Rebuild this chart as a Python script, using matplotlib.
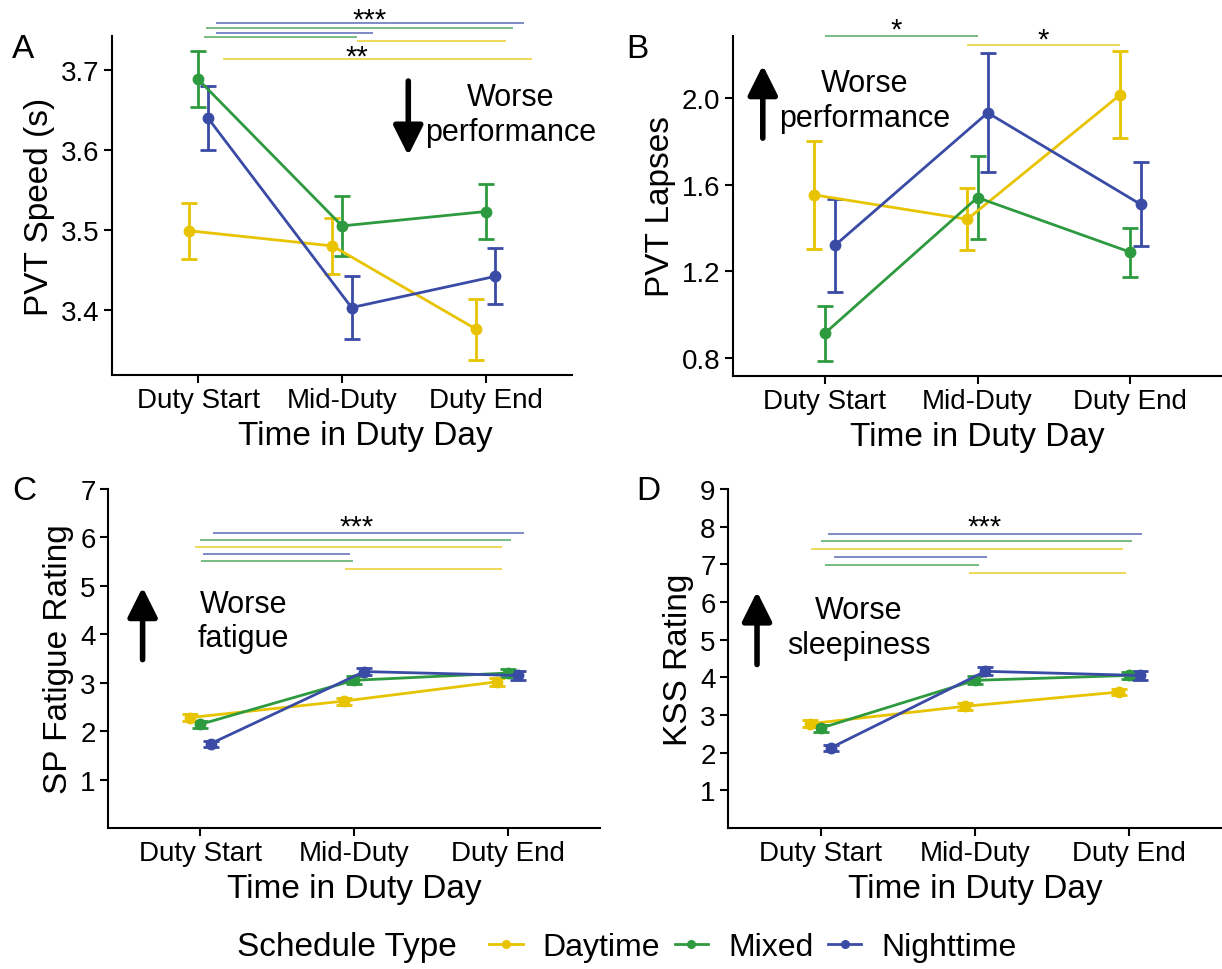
import matplotlib
matplotlib.use("Agg")
import matplotlib.pyplot as plt
from matplotlib.lines import Line2D

plt.rcParams['font.family'] = ['Liberation Sans', 'DejaVu Sans']

times = ['Duty Start', 'Mid-Duty', 'Duty End']
schedules = ['Daytime', 'Mixed', 'Nighttime']
colors = ['#E8C300', '#2E9A3F', '#3A4BA6']

# rows: Daytime, Mixed, Nighttime
speed_mean = [[3.499, 3.480, 3.376],
              [3.688, 3.505, 3.523],
              [3.640, 3.403, 3.442]]
speed_se = [[0.035, 0.035, 0.038],
            [0.035, 0.037, 0.034],
            [0.040, 0.039, 0.035]]

lapses_mean = [[1.553, 1.441, 2.015],
               [0.914, 1.541, 1.289],
               [1.320, 1.932, 1.510]]
lapses_se = [[0.249, 0.142, 0.200],
             [0.125, 0.191, 0.113],
             [0.216, 0.274, 0.193]]

fatigue_mean = [[2.28, 2.62, 3.02],
                [2.14, 3.05, 3.20],
                [1.74, 3.23, 3.15]]
fatigue_se = [[0.07, 0.07, 0.08],
              [0.07, 0.08, 0.08],
              [0.06, 0.08, 0.09]]

kss_mean = [[2.77, 3.23, 3.61],
            [2.65, 3.92, 4.05],
            [2.13, 4.16, 4.05]]
kss_se = [[0.09, 0.09, 0.09],
          [0.09, 0.11, 0.10],
          [0.08, 0.11, 0.12]]

# significance bars: (x start, x end, y, schedule index)
brackets_a = [(1.125, 3.268, 3.758, 2), (1.056, 3.191, 3.752, 1),
              (1.125, 2.217, 3.7466, 2), (1.042, 2.106, 3.741, 1),
              (2.106, 3.143, 3.7354, 0), (1.174, 3.323, 3.713, 0)]
stars_a = [('***', 2.19, 3.768), ('**', 2.106, 3.722)]

brackets_b = [(1.002, 2.002, 2.2875, 1), (1.932, 2.932, 2.2425, 0)]
stars_b = [('*', 1.47, 2.337), ('*', 2.429, 2.29)]

brackets_c = [(1.086, 3.104, 6.092, 2), (1.0, 3.023, 5.947, 1),
              (0.968, 2.965, 5.803, 0), (1.017, 1.974, 5.652, 2),
              (1.004, 1.991, 5.508, 1), (1.94, 2.965, 5.349, 0)]
stars_c = [('***', 2.017, 6.325)]

brackets_d = [(1.05, 3.084, 7.815, 2), (1.0, 3.02, 7.61, 1),
              (0.935, 2.958, 7.408, 0), (1.086, 2.078, 7.196, 2),
              (1.028, 2.028, 6.99, 1), (1.958, 2.976, 6.78, 0)]
stars_d = [('***', 2.06, 8.13)]

W, H = 1222, 970
fig = plt.figure(figsize=(W / 100, H / 100), dpi=100)


def px_axes(left, right, top, bottom):
    return fig.add_axes([left / W, 1 - bottom / H, (right - left) / W, (bottom - top) / H])


def draw_panel(ax, means, ses, ylabel, brackets, stars, ylim=None, yticks=None):
    dodge = [-0.0667, 0.0, 0.0667]
    for i, name in enumerate(schedules):
        xs = [j + 1 + dodge[i] for j in range(len(times))]
        ax.errorbar(xs, means[i], yerr=ses[i], color=colors[i], lw=2, marker='o',
                    ms=7.5, capsize=6, capthick=2, elinewidth=2, label=name, zorder=3)
    if ylim is None:
        lo = min(m - s for row_m, row_s in zip(means, ses) for m, s in zip(row_m, row_s))
        hi = max(m + s for row_m, row_s in zip(means, ses) for m, s in zip(row_m, row_s))
        pad = (hi - lo) * 0.05
        ylim = (lo - pad, hi + pad)
    ax.set_ylim(*ylim)
    ax.set_xlim(0.4, 3.6)
    if yticks is not None:
        ax.set_yticks(yticks)
    ax.set_xticks([1, 2, 3])
    ax.set_xticklabels(times)
    ax.set_xlabel('Time in Duty Day', fontsize=24, labelpad=5)
    ax.set_ylabel(ylabel, fontsize=24, labelpad=4)
    ax.tick_params(labelsize=20, width=1.5, length=6, pad=3, colors='black')
    for side in ['top', 'right']:
        ax.spines[side].set_visible(False)
    for side in ['left', 'bottom']:
        ax.spines[side].set_linewidth(1.5)
    for x0, x1, y, k in brackets:
        ax.plot([x0, x1], [y, y], color=colors[k], lw=1.3, alpha=0.7, clip_on=False,
                solid_capstyle='butt')
    for label, x, y in stars:
        ax.annotate(label, xy=(x, y), xytext=(0, -9), textcoords='offset points',
                    ha='center', va='baseline', fontsize=21, annotation_clip=False)


def worse_arrow(ax, x, y_tail, y_tip):
    ax.annotate('', xy=(x, y_tip), xytext=(x, y_tail),
                arrowprops=dict(arrowstyle='-|>,head_length=0.9,head_width=0.45',
                                lw=4, color='black', mutation_scale=20,
                                shrinkA=0, shrinkB=0))


ax_a = px_axes(112, 572, 37, 376)
draw_panel(ax_a, speed_mean, speed_se, 'PVT Speed (s)', brackets_a, stars_a,
           yticks=[3.4, 3.5, 3.6, 3.7])
ax_a.xaxis.label.set_x(0.55)
worse_arrow(ax_a, 2.461, 3.686, 3.593)
ax_a.text(3.17, 3.644, 'Worse\nperformance', ha='center', va='center',
          fontsize=22, linespacing=1.2)

ax_b = px_axes(733, 1222, 37, 377)
draw_panel(ax_b, lapses_mean, lapses_se, 'PVT Lapses', brackets_b, stars_b,
           yticks=[0.8, 1.2, 1.6, 2.0])
worse_arrow(ax_b, 0.595, 1.815, 2.151)
ax_b.text(1.26, 1.989, 'Worse\nperformance', ha='center', va='center',
          fontsize=22, linespacing=1.2)

ax_c = px_axes(108, 600, 490, 829)
draw_panel(ax_c, fatigue_mean, fatigue_se, 'SP Fatigue Rating', brackets_c, stars_c,
           ylim=(0, 7), yticks=range(1, 8))
worse_arrow(ax_c, 0.625, 3.477, 4.971)
ax_c.text(1.281, 4.276, 'Worse\nfatigue', ha='center', va='center',
          fontsize=22, linespacing=1.2)

ax_d = px_axes(728, 1222, 490, 829)
draw_panel(ax_d, kss_mean, kss_se, 'KSS Rating', brackets_d, stars_d,
           ylim=(0, 9), yticks=range(1, 10))
worse_arrow(ax_d, 0.588, 4.34, 6.276)
ax_d.text(1.249, 5.33, 'Worse\nsleepiness', ha='center', va='center',
          fontsize=22, linespacing=1.2)

for letter, x, y in [('A', 12, 50), ('B', 626, 50), ('C', 12, 492), ('D', 636, 492)]:
    fig.text(x / W, 1 - y / H, letter, fontsize=24, ha='left', va='center')

# shared legend along the bottom
fig.text(237 / W, 1 - 948 / H, 'Schedule Type', fontsize=24, ha='left', va='center')
handles = [Line2D([], [], color=c, lw=2, marker='o', ms=5.5) for c in colors]
fig.legend(handles, schedules, loc='center left', bbox_to_anchor=(489 / W, 1 - 948 / H),
           ncol=3, frameon=False, fontsize=23, handlelength=1.05, handletextpad=0.63,
           columnspacing=0.45, borderpad=0, borderaxespad=0)

fig.savefig('out.png', dpi=100)
